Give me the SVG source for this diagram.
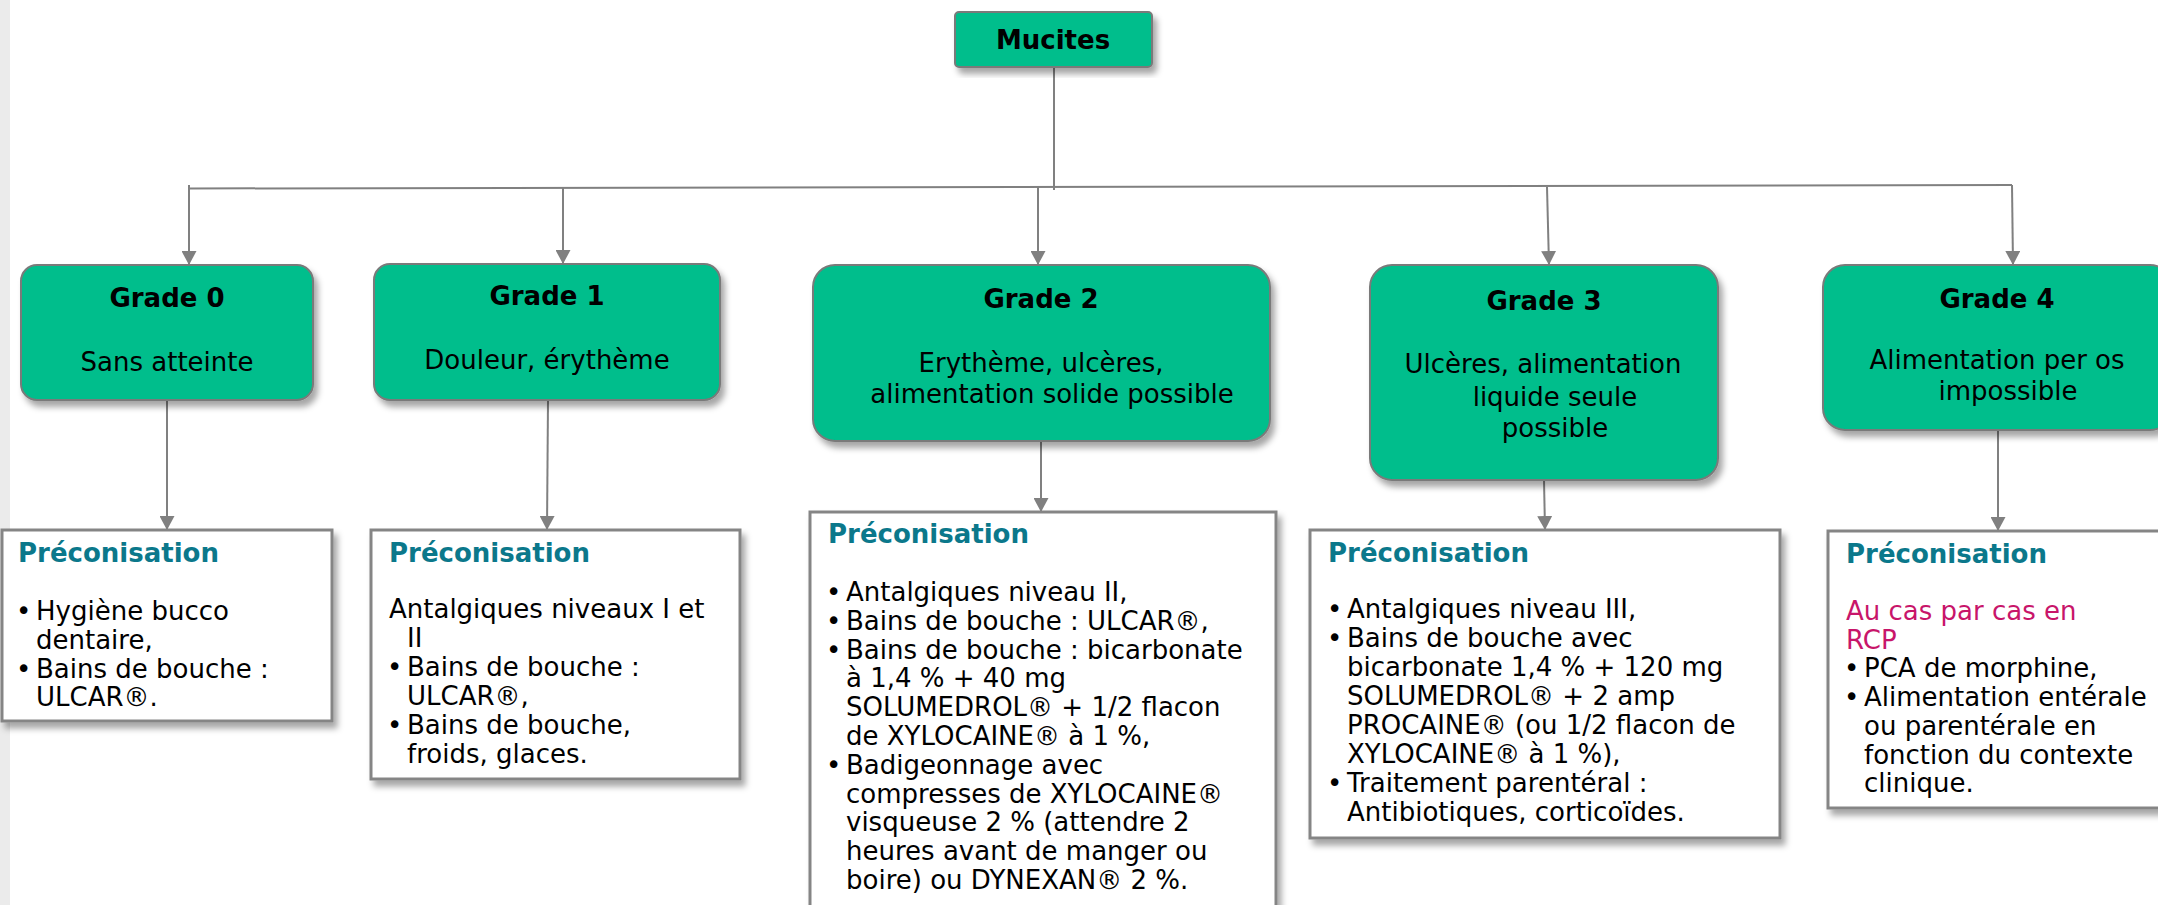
<svg xmlns="http://www.w3.org/2000/svg" width="2158" height="905" viewBox="0 0 2158 905">
<defs>
<filter id="sh" x="-10%" y="-10%" width="130%" height="130%">
<feDropShadow dx="4" dy="6" stdDeviation="3" flood-color="#000" flood-opacity="0.35"/>
</filter>
<marker id="ah" viewBox="0 0 14 15" refX="14" refY="7.5" markerWidth="14" markerHeight="15" markerUnits="userSpaceOnUse" orient="auto">
<path d="M0,0 L14,7.5 L0,15 Z" fill="#808080"/>
</marker>
<style>
.g{fill:#00BE8C;stroke:#7a7a7a;stroke-width:2;filter:url(#sh)}
.p{fill:#fff;stroke:#858585;stroke-width:3;filter:url(#sh)}
.t{font-family:"DejaVu Sans",Verdana,sans-serif;font-size:26px;fill:#000}
.b{font-weight:bold}
.c{text-anchor:middle}
.h{font-family:"DejaVu Sans",Verdana,sans-serif;font-size:26px;font-weight:bold;fill:#0B788B}
.pk{fill:#C8156A}
.ln{stroke:#808080;stroke-width:2;fill:none}
.ar{stroke:#808080;stroke-width:2;fill:none}
</style>
</defs>
<rect x="0" y="0" width="2158" height="905" fill="#fff"/>
<rect x="0" y="0" width="10" height="905" fill="#ebebeb"/>

<g id="connectors">
<line class="ln" x1="1054" y1="67" x2="1054" y2="190"/>
<line class="ln" x1="190" y1="188.5" x2="2012" y2="185"/>
<line class="ar" x1="189" y1="185" x2="189" y2="265" marker-end="url(#ah)"/>
<line class="ar" x1="563" y1="188" x2="563" y2="264" marker-end="url(#ah)"/>
<line class="ar" x1="1038" y1="186" x2="1038" y2="265" marker-end="url(#ah)"/>
<line class="ar" x1="1547" y1="187" x2="1549" y2="265" marker-end="url(#ah)"/>
<line class="ar" x1="2012" y1="185" x2="2013" y2="265" marker-end="url(#ah)"/>
<line class="ar" x1="167" y1="400" x2="167" y2="530" marker-end="url(#ah)"/>
<line class="ar" x1="548" y1="400" x2="547" y2="530" marker-end="url(#ah)"/>
<line class="ar" x1="1041" y1="441" x2="1041" y2="512" marker-end="url(#ah)"/>
<line class="ar" x1="1544" y1="480" x2="1545" y2="530" marker-end="url(#ah)"/>
<line class="ar" x1="1998" y1="430" x2="1998" y2="531" marker-end="url(#ah)"/>
</g>

<g id="mucites">
<rect class="g" x="955" y="12" width="197" height="55" rx="4"/>
<text class="t b c" x="1053" y="49">Mucites</text>
</g>

<g id="grade0">
<rect class="g" x="21" y="265" width="292" height="135" rx="16"/>
<text class="t b c" x="167" y="307">Grade 0</text>
<text class="t c" x="167" y="371">Sans atteinte</text>
</g>

<g id="grade1">
<rect class="g" x="374" y="264" width="346" height="136" rx="16"/>
<text class="t b c" x="547" y="305">Grade 1</text>
<text class="t c" x="547" y="369">Douleur, érythème</text>
</g>

<g id="grade2">
<rect class="g" x="813" y="265" width="457" height="176" rx="22"/>
<text class="t b c" x="1041" y="308">Grade 2</text>
<text class="t c" x="1041" y="372">Erythème, ulcères,</text>
<text class="t c" x="1052" y="403">alimentation solide possible</text>
</g>

<g id="grade3">
<rect class="g" x="1370" y="265" width="348" height="215" rx="22"/>
<text class="t b c" x="1544" y="310">Grade 3</text>
<text class="t c" x="1543" y="373">Ulcères, alimentation</text>
<text class="t c" x="1555" y="406">liquide seule</text>
<text class="t c" x="1555" y="437">possible</text>
</g>

<g id="grade4">
<rect class="g" x="1823" y="265" width="349" height="165" rx="22"/>
<text class="t b c" x="1997" y="308">Grade 4</text>
<text class="t c" x="1997" y="369">Alimentation per os</text>
<text class="t c" x="2008" y="400">impossible</text>
</g>

<g id="preco0">
<rect class="p" x="2" y="530" width="330" height="191"/>
<text class="h" x="18" y="562">Préconisation</text>
<text class="t"><tspan x="16" y="620">•</tspan><tspan x="36" y="620">Hygiène bucco</tspan><tspan x="36" y="648.8">dentaire,</tspan><tspan x="16" y="677.6">•</tspan><tspan x="36" y="677.6">Bains de bouche :</tspan><tspan x="36" y="706.4">ULCAR®.</tspan></text>
</g>

<g id="preco1">
<rect class="p" x="371" y="530" width="369" height="249"/>
<text class="h" x="389" y="562">Préconisation</text>
<text class="t"><tspan x="389" y="618">Antalgiques niveaux I et</tspan><tspan x="407" y="647">II</tspan><tspan x="387" y="676">•</tspan><tspan x="407" y="676">Bains de bouche :</tspan><tspan x="407" y="705">ULCAR®,</tspan><tspan x="387" y="734">•</tspan><tspan x="407" y="734">Bains de bouche,</tspan><tspan x="407" y="763">froids, glaces.</tspan></text>
</g>

<g id="preco2">
<rect class="p" x="810" y="512" width="466" height="400"/>
<text class="h" x="828" y="543">Préconisation</text>
<text class="t"><tspan x="826" y="601">•</tspan><tspan x="846" y="601">Antalgiques niveau II,</tspan><tspan x="826" y="629.8">•</tspan><tspan x="846" y="629.8">Bains de bouche : ULCAR®,</tspan><tspan x="826" y="658.6">•</tspan><tspan x="846" y="658.6">Bains de bouche : bicarbonate</tspan><tspan x="846" y="687.4">à 1,4 % + 40 mg</tspan><tspan x="846" y="716.2">SOLUMEDROL® + 1/2 flacon</tspan><tspan x="846" y="745">de XYLOCAINE® à 1 %,</tspan><tspan x="826" y="773.8">•</tspan><tspan x="846" y="773.8">Badigeonnage avec</tspan><tspan x="846" y="802.6">compresses de XYLOCAINE®</tspan><tspan x="846" y="831.4">visqueuse 2 % (attendre 2</tspan><tspan x="846" y="860.2">heures avant de manger ou</tspan><tspan x="846" y="889">boire) ou DYNEXAN® 2 %.</tspan></text>
</g>

<g id="preco3">
<rect class="p" x="1310" y="530" width="470" height="308"/>
<text class="h" x="1328" y="562">Préconisation</text>
<text class="t"><tspan x="1327" y="618">•</tspan><tspan x="1347" y="618">Antalgiques niveau III,</tspan><tspan x="1327" y="647">•</tspan><tspan x="1347" y="647">Bains de bouche avec</tspan><tspan x="1347" y="676">bicarbonate 1,4 % + 120 mg</tspan><tspan x="1347" y="705">SOLUMEDROL® + 2 amp</tspan><tspan x="1347" y="734">PROCAINE® (ou 1/2 flacon de</tspan><tspan x="1347" y="763">XYLOCAINE® à 1 %),</tspan><tspan x="1327" y="792">•</tspan><tspan x="1347" y="792">Traitement parentéral :</tspan><tspan x="1347" y="821">Antibiotiques, corticoïdes.</tspan></text>
</g>

<g id="preco4">
<rect class="p" x="1828" y="531" width="345" height="277"/>
<text class="h" x="1846" y="563">Préconisation</text>
<text class="t pk"><tspan x="1846" y="620">Au cas par cas en</tspan><tspan x="1846" y="648.5">RCP</tspan></text>
<text class="t"><tspan x="1844" y="677">•</tspan><tspan x="1864" y="677">PCA de morphine,</tspan><tspan x="1844" y="706">•</tspan><tspan x="1864" y="706">Alimentation entérale</tspan><tspan x="1864" y="735">ou parentérale en</tspan><tspan x="1864" y="763.5">fonction du contexte</tspan><tspan x="1864" y="792">clinique.</tspan></text>
</g>
</svg>
